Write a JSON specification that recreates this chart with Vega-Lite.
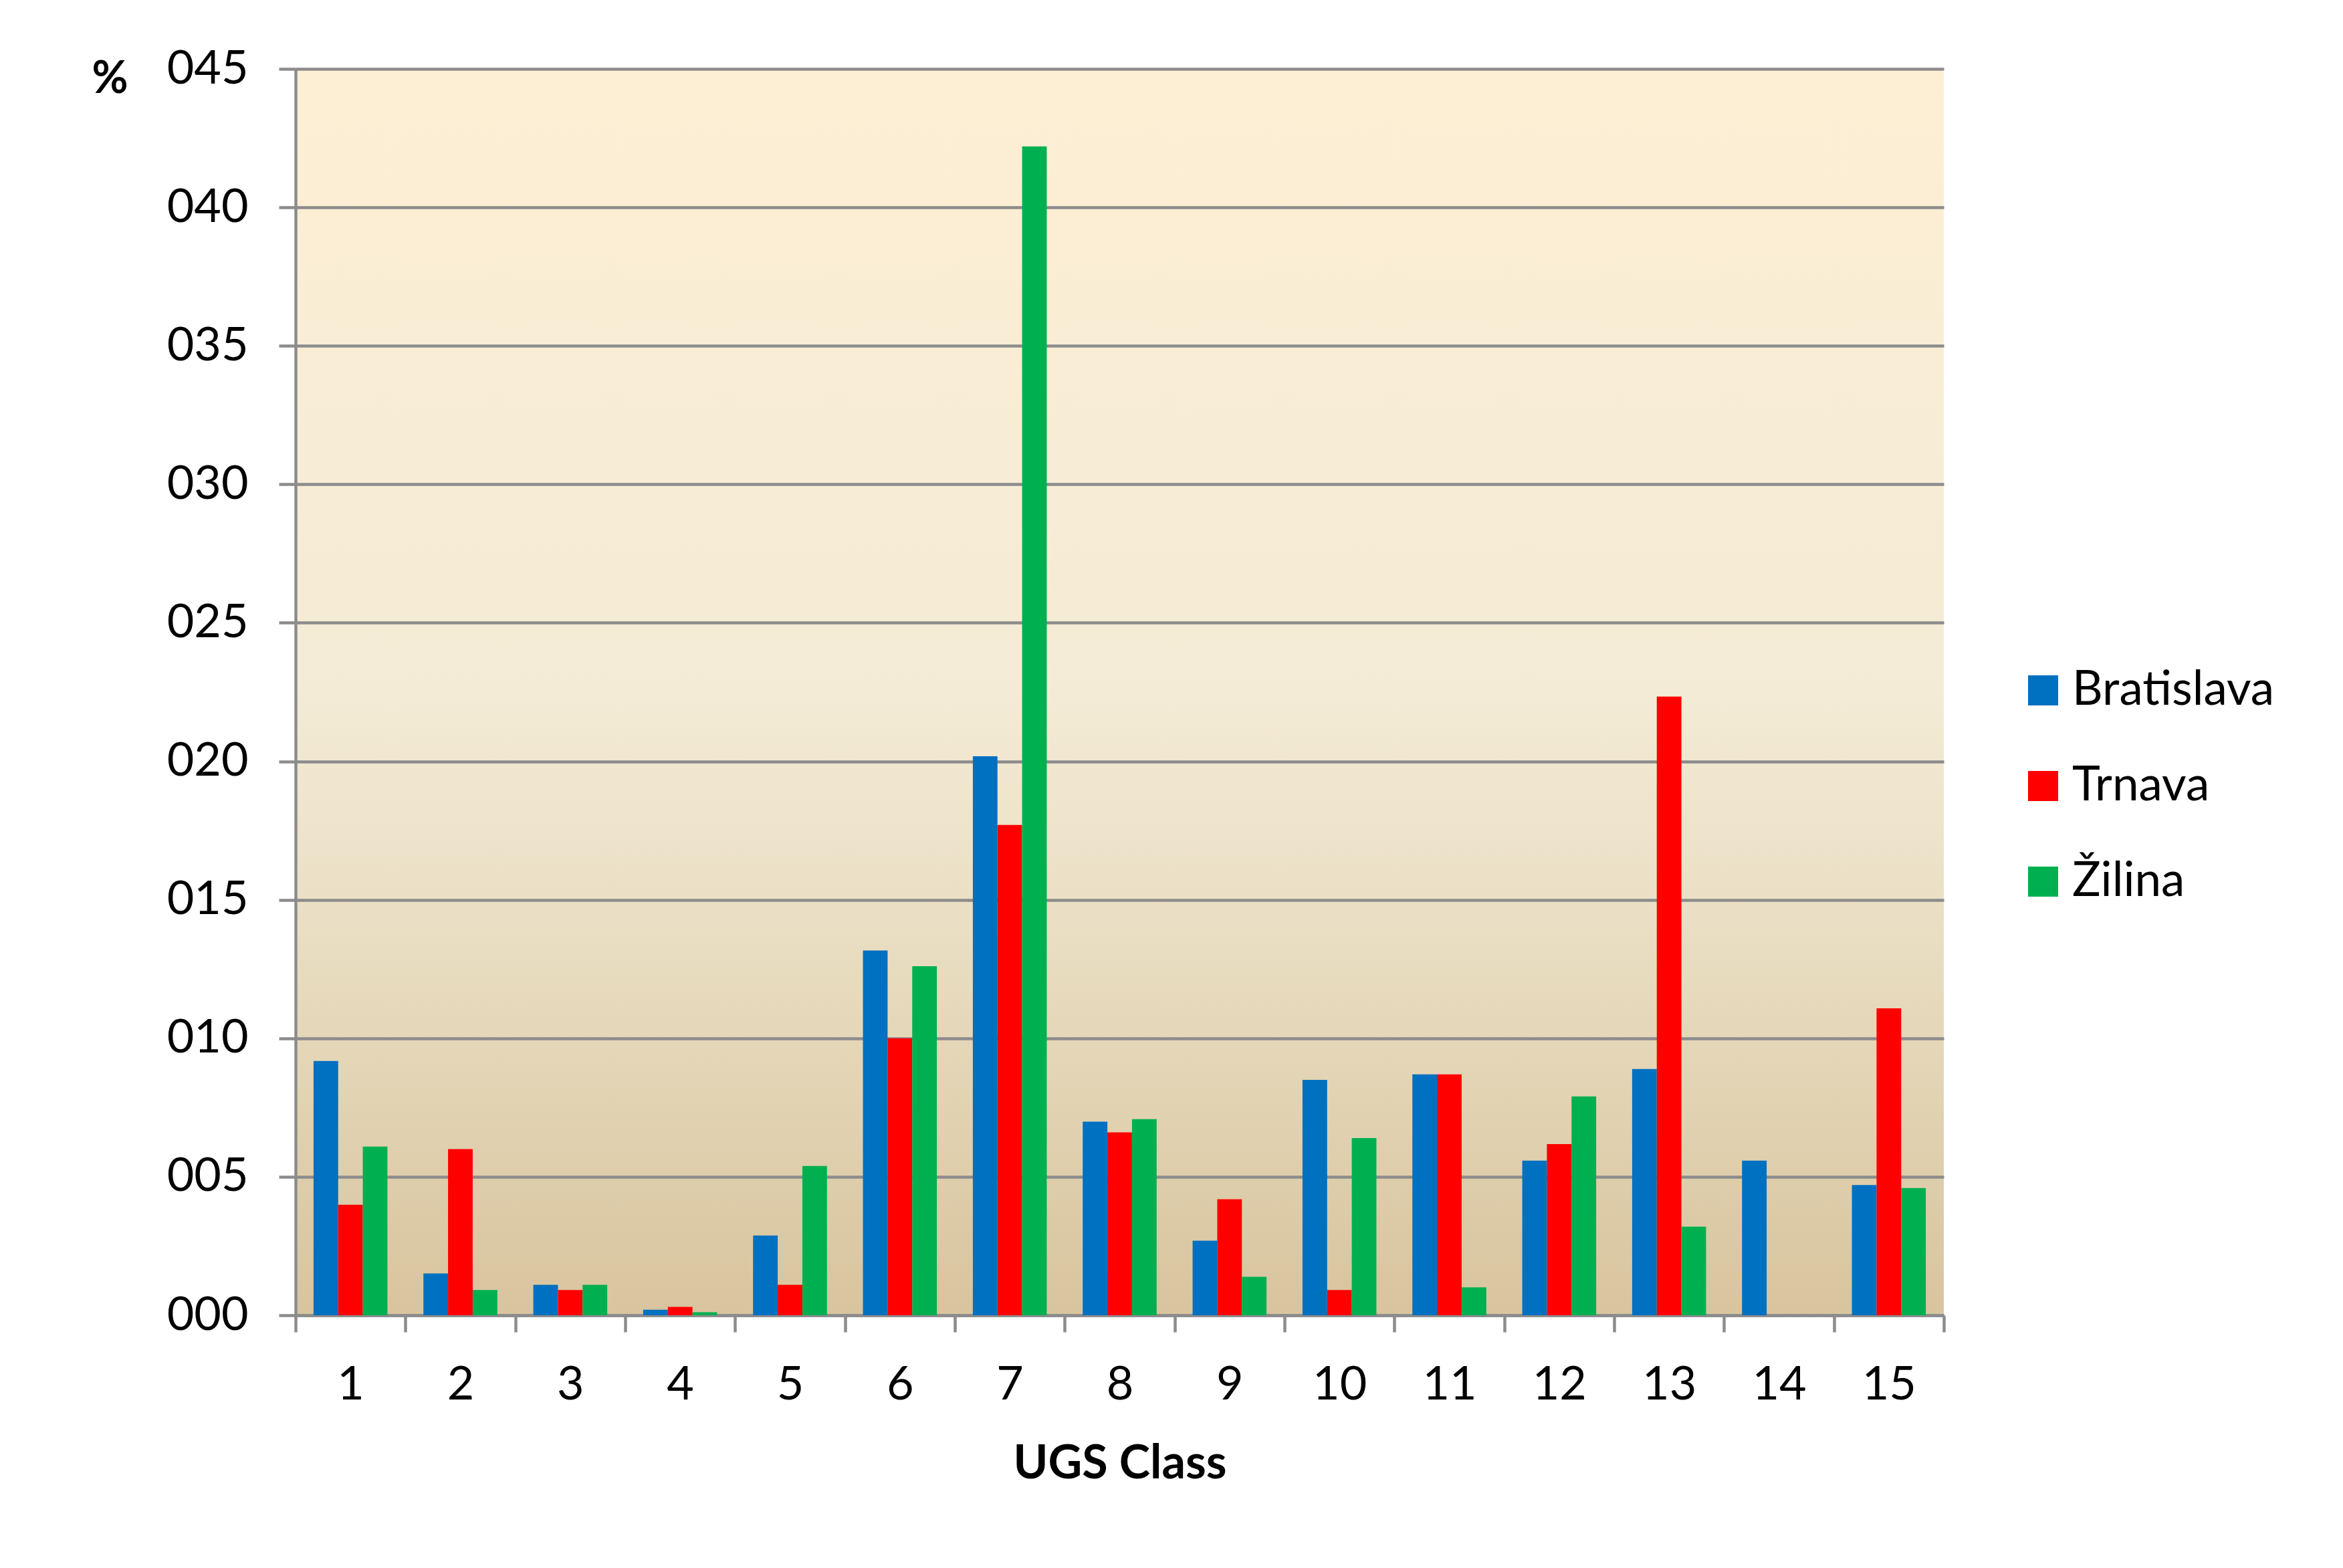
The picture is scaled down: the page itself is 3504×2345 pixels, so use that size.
{
  "$schema": "https://vega.github.io/schema/vega-lite/v6.json",
  "width": 2465,
  "height": 1864,
  "autosize": {"type": "none"},
  "padding": {"left": 442, "top": 103, "right": 597, "bottom": 378},
  "background": "white",
  "config": {
    "font": "Lato",
    "view": {
      "stroke": null,
      "fill": {
        "gradient": "linear",
        "x1": 0, "y1": 0, "x2": 0, "y2": 1,
        "stops": [
          {"offset": 0, "color": "#FDEFD4"},
          {"offset": 0.5, "color": "#F4EBD6"},
          {"offset": 0.68, "color": "#EADFC4"},
          {"offset": 1, "color": "#D8C49E"}
        ]
      }
    },
    "axis": {
      "labelColor": "black",
      "titleColor": "black",
      "domainColor": "#8C8C8C",
      "tickColor": "#8C8C8C",
      "gridColor": "#8C8C8C",
      "domainWidth": 4.5,
      "tickWidth": 4.5,
      "gridWidth": 4.5,
      "tickSize": 25,
      "labelFont": "Lato",
      "titleFont": "Lato"
    }
  },
  "data": {
    "values": [
      {"class": 1, "city": "Bratislava", "value": 9.18},
      {"class": 1, "city": "Trnava", "value": 3.99},
      {"class": 1, "city": "Žilina", "value": 6.09},
      {"class": 2, "city": "Bratislava", "value": 1.51},
      {"class": 2, "city": "Trnava", "value": 6.0},
      {"class": 2, "city": "Žilina", "value": 0.91},
      {"class": 3, "city": "Bratislava", "value": 1.1},
      {"class": 3, "city": "Trnava", "value": 0.91},
      {"class": 3, "city": "Žilina", "value": 1.1},
      {"class": 4, "city": "Bratislava", "value": 0.2},
      {"class": 4, "city": "Trnava", "value": 0.3},
      {"class": 4, "city": "Žilina", "value": 0.11},
      {"class": 5, "city": "Bratislava", "value": 2.88},
      {"class": 5, "city": "Trnava", "value": 1.1},
      {"class": 5, "city": "Žilina", "value": 5.39},
      {"class": 6, "city": "Bratislava", "value": 13.17},
      {"class": 6, "city": "Trnava", "value": 10.0},
      {"class": 6, "city": "Žilina", "value": 12.6},
      {"class": 7, "city": "Bratislava", "value": 20.18},
      {"class": 7, "city": "Trnava", "value": 17.7},
      {"class": 7, "city": "Žilina", "value": 42.2},
      {"class": 8, "city": "Bratislava", "value": 6.99},
      {"class": 8, "city": "Trnava", "value": 6.6},
      {"class": 8, "city": "Žilina", "value": 7.08},
      {"class": 9, "city": "Bratislava", "value": 2.69},
      {"class": 9, "city": "Trnava", "value": 4.19},
      {"class": 9, "city": "Žilina", "value": 1.39},
      {"class": 10, "city": "Bratislava", "value": 8.5},
      {"class": 10, "city": "Trnava", "value": 0.91},
      {"class": 10, "city": "Žilina", "value": 6.4},
      {"class": 11, "city": "Bratislava", "value": 8.7},
      {"class": 11, "city": "Trnava", "value": 8.7},
      {"class": 11, "city": "Žilina", "value": 1.01},
      {"class": 12, "city": "Bratislava", "value": 5.58},
      {"class": 12, "city": "Trnava", "value": 6.18},
      {"class": 12, "city": "Žilina", "value": 7.9},
      {"class": 13, "city": "Bratislava", "value": 8.89},
      {"class": 13, "city": "Trnava", "value": 22.34},
      {"class": 13, "city": "Žilina", "value": 3.2},
      {"class": 14, "city": "Bratislava", "value": 5.58},
      {"class": 14, "city": "Trnava", "value": 0},
      {"class": 14, "city": "Žilina", "value": 0},
      {"class": 15, "city": "Bratislava", "value": 4.7},
      {"class": 15, "city": "Trnava", "value": 11.08},
      {"class": 15, "city": "Žilina", "value": 4.59}
    ]
  },
  "mark": {"type": "bar"},
  "encoding": {
    "x": {
      "field": "class",
      "type": "ordinal",
      "scale": {"paddingInner": 0, "paddingOuter": 0},
      "axis": {
        "title": "UGS Class",
        "titleFontSize": 70,
        "titleFontWeight": "bold",
        "titleBaseline": "alphabetic",
        "titleY": 243,
        "labelAngle": 0,
        "labelFontSize": 70,
        "labelPadding": 45,
        "tickBand": "extent",
        "grid": false
      }
    },
    "xOffset": {
      "field": "city",
      "type": "nominal",
      "sort": ["Bratislava", "Trnava", "Žilina"],
      "scale": {"paddingInner": 0, "paddingOuter": 0.73}
    },
    "y": {
      "field": "value",
      "type": "quantitative",
      "scale": {"domain": [0, 45], "nice": false},
      "axis": {
        "values": [0, 5, 10, 15, 20, 25, 30, 35, 40, 45],
        "format": "03d",
        "labelFontSize": 70,
        "labelPadding": 46,
        "grid": true,
        "title": "%",
        "titleAngle": 0,
        "titleFontSize": 66,
        "titleFontWeight": "bold",
        "titleAlign": "center",
        "titleBaseline": "alphabetic",
        "titleX": -278,
        "titleY": 35
      }
    },
    "color": {
      "field": "city",
      "type": "nominal",
      "sort": ["Bratislava", "Trnava", "Žilina"],
      "scale": {"domain": ["Bratislava", "Trnava", "Žilina"], "range": ["#0070C0", "#FF0000", "#00B050"]},
      "legend": {
        "title": null,
        "orient": "none",
        "legendX": 2578,
        "legendY": 894,
        "symbolType": "square",
        "symbolSize": 2025,
        "symbolStrokeWidth": 0,
        "symbolOpacity": 1,
        "labelFontSize": 71,
        "labelLimit": 0,
        "labelColor": "black",
        "labelFont": "Lato",
        "labelOffset": 8,
        "rowPadding": 71
      }
    }
  }
}
